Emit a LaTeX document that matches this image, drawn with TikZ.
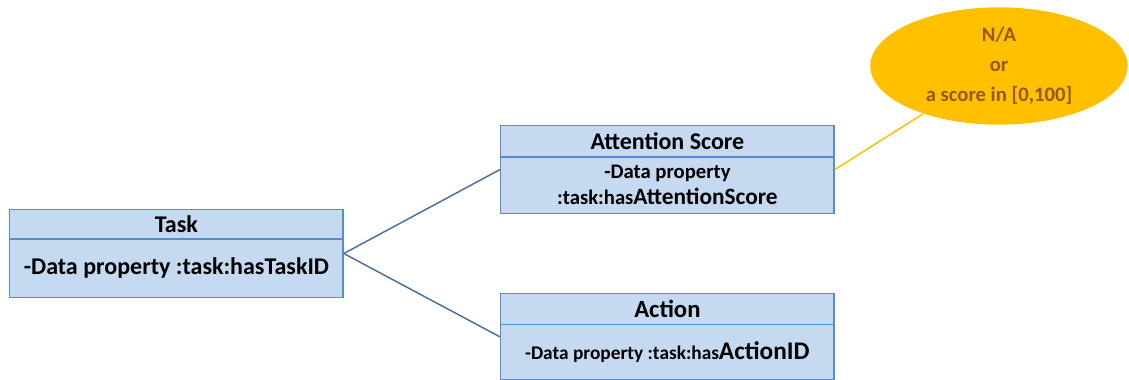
\documentclass[tikz,border=0pt]{standalone}
\usepackage{fontspec}
\setmainfont{Carlito}
\usetikzlibrary{shapes.multipart,shapes.geometric}
\definecolor{boxfill}{RGB}{197,217,241}
\definecolor{boxline}{RGB}{84,141,212}
\definecolor{linkblue}{RGB}{74,111,154}
\definecolor{notefill}{RGB}{255,192,0}
\definecolor{notetext}{RGB}{150,88,20}
% one cell of a class box: height, text
\newcommand{\cell}[2]{\parbox[c][#1][c]{250pt}{\centering\bfseries #2}}

\begin{document}
\begin{tikzpicture}[x=0.75pt,y=-0.75pt,
		classbox/.style={rectangle split,rectangle split parts=2,draw=boxline,fill=boxfill,
			line width=1.1pt,inner sep=0pt,anchor=north west},
		note/.style={ellipse,fill=notefill,text=notetext,minimum width=193pt,minimum height=88pt,
			inner sep=0pt,align=center,font=\fontsize{15.5}{22.5}\selectfont\bfseries},
		link/.style={draw=linkblue,line width=1.1pt}]
	\useasboundingbox (0,0) rectangle (1129,379);
	%CLASSES
	\node[classbox] (task) at (9,209) {\cell{21pt}{\fontsize{18}{20}\selectfont Task}
		\nodepart{two}\cell{42.5pt}{\fontsize{18}{20}\selectfont -Data property :task:hasTaskID}};
	\node[classbox] (att) at (500,125) {\cell{22.5pt}{\fontsize{18}{20}\selectfont Attention Score}
		\nodepart{two}\cell{41pt}{\fontsize{15.5}{19.5}\selectfont -Data property\\
			:task:has{\fontsize{17.5}{19.5}\selectfont AttentionScore}}};
	\node[classbox] (act) at (500,293) {\cell{22pt}{\fontsize{18.5}{20}\selectfont Action}
		\nodepart{two}\cell{40.5pt}{\fontsize{14.5}{20}\selectfont -Data property :task:has{\fontsize{19}{20}\selectfont ActionID}}};
	%VALUE NOTE
	\node[note] (na) at (999,66) {N/A\\or\\a score in [0,100]};
	%LINKS
	\draw[link] (task.east) -- (att.west);
	\draw[link] (task.east) -- (act.west);
	\draw[draw=notefill,line width=1.1pt] (att.east) -- (na);
\end{tikzpicture}
\end{document}
